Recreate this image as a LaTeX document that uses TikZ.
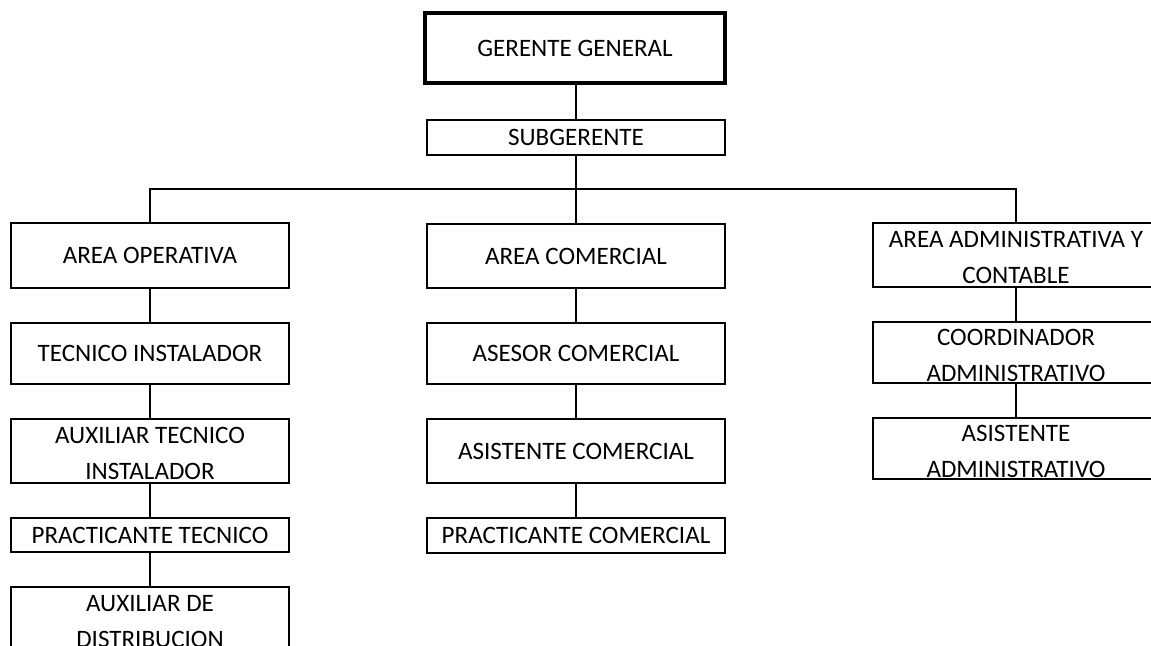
\documentclass[tikz,border=0pt]{standalone}
\usepackage{fontspec}
\setmainfont{Carlito}
\usepackage{tikz}
\usetikzlibrary{positioning}
\tikzset{x=0.75pt, y=-0.75pt, node distance=26.25pt,
	box/.style={draw, line width=1.4pt, align=center, inner sep=0pt, outer sep=0pt, font=\fontsize{18.8}{27}\selectfont},
	boss/.style={box, line width=3pt},
	twolines/.style={box, text height=43pt, text depth=0pt},
	link/.style={line width=1.4pt}}

\begin{document}
\begin{tikzpicture}
	\useasboundingbox (0,0) rectangle (1151,645);
	\clip (0,0) rectangle (1151,645);
	\node[boss, minimum width=225pt, minimum height=52.5pt] (ger) at (575,48) {GERENTE GENERAL};
	\node[box, minimum width=223.5pt, minimum height=26.25pt] (sub) at (576,137.5) {SUBGERENTE};
	\node[box, minimum width=208.5pt, minimum height=48.75pt] (op) at (150,255.5) {AREA OPERATIVA};
	\node[box, minimum width=223.5pt, minimum height=48pt] (com) at (576,256) {AREA COMERCIAL};
	\node[twolines, minimum width=214.5pt, minimum height=48pt] (adm) at (1016,255) {AREA ADMINISTRATIVA Y\\CONTABLE};
	\node[box, minimum width=208.5pt, minimum height=45.75pt] (tec) [below=of op] {TECNICO INSTALADOR};
	\node[twolines, minimum width=208.5pt, minimum height=48pt] (auxtec) [below=of tec] {AUXILIAR TECNICO\\INSTALADOR};
	\node[box, minimum width=208.5pt, minimum height=25.5pt] (pratec) [below=of auxtec] {PRACTICANTE TECNICO};
	\node[twolines, minimum width=208.5pt, minimum height=48pt] (auxdis) [below=of pratec] {AUXILIAR DE\\DISTRIBUCION};
	\node[box, minimum width=223.5pt, minimum height=45.75pt] (ase) [below=of com] {ASESOR COMERCIAL};
	\node[box, minimum width=223.5pt, minimum height=48pt] (asicom) [below=of ase] {ASISTENTE COMERCIAL};
	\node[box, minimum width=223.5pt, minimum height=26.25pt] (pracom) [below=of asicom] {PRACTICANTE COMERCIAL};
	\node[twolines, minimum width=214.5pt, minimum height=45.75pt] (coo) [below=of adm] {COORDINADOR\\ADMINISTRATIVO};
	\node[twolines, minimum width=214.5pt, minimum height=45.75pt] (asiadm) [below=of coo] {ASISTENTE\\ADMINISTRATIVO};
	\coordinate (bus) at (576,189);
	\draw[link] (sub.north |- ger.south) -- (sub);
	\draw[link] (sub) -- (com);
	\draw[link] (op.north) |- (bus) -| (adm.north);
	\draw[link] (op) -- (tec) (tec) -- (auxtec) (auxtec) -- (pratec) (pratec) -- (auxdis);
	\draw[link] (com) -- (ase) (ase) -- (asicom) (asicom) -- (pracom);
	\draw[link] (adm) -- (coo) (coo) -- (asiadm);
\end{tikzpicture}
\end{document}
